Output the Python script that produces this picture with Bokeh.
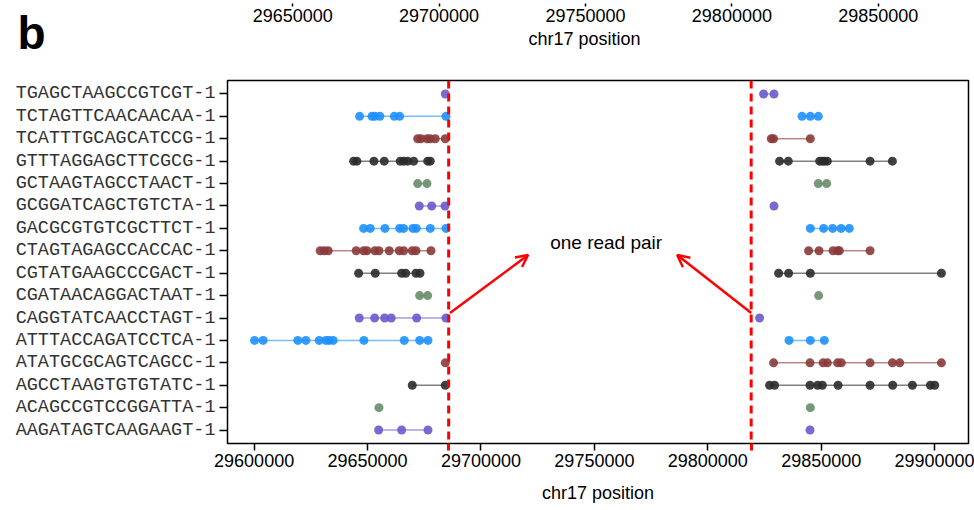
from bokeh.plotting import figure
from bokeh.layouts import column, row
from bokeh.models import (ColumnDataSource, Range1d, FixedTicker, Span, Arrow,
                          OpenHead, Label, BasicTickFormatter)
from bokeh.core.properties import value
from bokeh.embed import file_html
from bokeh.resources import INLINE

# ---------------- data ----------------
barcodes = [
    "TGAGCTAAGCCGTCGT-1", "TCTAGTTCAACAACAA-1", "TCATTTGCAGCATCCG-1",
    "GTTTAGGAGCTTCGCG-1", "GCTAAGTAGCCTAACT-1", "GCGGATCAGCTGTCTA-1",
    "GACGCGTGTCGCTTCT-1", "CTAGTAGAGCCACCAC-1", "CGTATGAAGCCCGACT-1",
    "CGATAACAGGACTAAT-1", "CAGGTATCAACCTAGT-1", "ATTTACCAGATCCTCA-1",
    "ATATGCGCAGTCAGCC-1", "AGCCTAAGTGTGTATC-1", "ACAGCCGTCCGGATTA-1",
    "AAGATAGTCAAGAAGT-1",
]

left_pos = [
    [29684270],
    [29646500, 29651930, 29653250, 29655460, 29661770, 29664150, 29684580],
    [29672090, 29673550, 29676200, 29677650, 29679860, 29684270],
    [29643860, 29645310, 29652810, 29657360, 29664420, 29665920, 29667680, 29670330, 29676500, 29677650],
    [29672090, 29676200],
    [29672800, 29678270, 29684140],
    [29648270, 29651180, 29657670, 29664150, 29665920, 29670020, 29671470, 29677650, 29684580],
    [29629120, 29630880, 29632650, 29645000, 29648270, 29649720, 29653250, 29655020, 29659560,
     29663970, 29665920, 29669710, 29671340, 29677960],
    [29646060, 29653390, 29665030, 29666800, 29671340, 29673110],
    [29672970, 29676500],
    [29646330, 29653120, 29657530, 29660440, 29671650, 29684580],
    [29600180, 29603970, 29619280, 29622810, 29628680, 29631630, 29633090, 29634850, 29648400,
     29666180, 29672970, 29676640],
    [29684270],
    [29669710, 29684270],
    [29655020],
    [29654890, 29665030, 29676640],
]

right_pos = [
    [29824570, 29829160],
    [29841510, 29845180, 29848700],
    [29827970, 29828980, 29845180],
    [29831630, 29835470, 29849280, 29850470, 29851480, 29852680, 29871510, 29881350],
    [29848700, 29852370],
    [29829160],
    [29845180, 29851040, 29855010, 29858720, 29862380],
    [29844420, 29849010, 29855190, 29857220, 29857970, 29871510],
    [29831190, 29835600, 29845180, 29902970],
    [29848840],
    [29822810],
    [29835780, 29845180, 29851350],
    [29828980, 29845040, 29850780, 29852680, 29857220, 29858850, 29871510, 29881350, 29884570, 29902970],
    [29827220, 29829420, 29845040, 29848400, 29850470, 29857400, 29871510, 29881490, 29890180,
     29898120, 29900020],
    [29845180],
    [29845040],
]

breakpoints = [29685750, 29819100]
palette = ["#6A5ACD", "#1E90FF", "#8B3A3A", "#2B2B2B", "#698B69"]
x_ticks = [29600000, 29650000, 29700000, 29750000, 29800000, 29850000, 29900000]
top_ticks = [29650000, 29700000, 29750000, 29800000, 29850000]
panel_letter = ["b"]

# annotation anchors
arrow_left = (29686340, 6.22, 29720760, 8.81)
arrow_right = (29819140, 6.22, 29786500, 8.81)
note_xy = (29755170, 9.35)

FONT = "Liberation Sans"
MONO = "Liberation Mono"
TOP_H = 51     # height of the cut-off upper axis strip
ROW_H = 62     # height of the whole upper row (letter strip)

# ---------------- sources ----------------
n = len(barcodes)
px, py, pc = [], [], []
sx0, sx1, sy, sc = [], [], [], []
for i, bc in enumerate(barcodes):
    yv = n - i
    col = palette[i % len(palette)]
    for grp in (left_pos[i], right_pos[i]):
        if len(grp) > 1:
            sx0.append(min(grp)); sx1.append(max(grp)); sy.append(yv); sc.append(col)
        for v in grp:
            px.append(v); py.append(yv); pc.append(col)

pts = ColumnDataSource(dict(x=px, y=py, c=pc))
segs = ColumnDataSource(dict(x0=sx0, x1=sx1, y=sy, c=sc))

# ---------------- panel letter ----------------
bfig = figure(frame_width=200, frame_height=ROW_H, x_range=Range1d(0, 200),
              y_range=Range1d(0, ROW_H), output_backend="svg", toolbar_location=None,
              x_axis_location=None, y_axis_location=None, min_border=0)
bfig.outline_line_color = None
bfig.grid.visible = False
bfig.text(x=[17], y=[ROW_H - 32], text=panel_letter, text_font=value(FONT),
          text_font_size="46px", text_font_style="bold", text_align="left",
          text_baseline="middle", text_color="black")

# ---------------- top (cut-off) axis ----------------
top = figure(width=774, height=TOP_H, x_range=Range1d(29618510, 29880806), y_range=Range1d(0, 1),
             output_backend="svg", toolbar_location=None, y_axis_location=None,
             min_border_top=0, min_border_bottom=0, min_border_left=0, min_border_right=6)
top.outline_line_color = None
top.grid.visible = False
ax = top.xaxis[0]
ax.ticker = FixedTicker(ticks=top_ticks)
ax.formatter = BasicTickFormatter(use_scientific=False)
ax.axis_line_color = None
ax.major_tick_out = 3
ax.major_tick_in = 0
ax.major_tick_line_color = "black"
ax.major_tick_line_width = 1.5
ax.minor_tick_line_color = None
ax.major_label_standoff = 2
ax.major_label_text_font = FONT
ax.major_label_text_font_size = "18px"
ax.major_label_text_color = "black"
ax.axis_label = "chr17 position"
ax.axis_label_standoff = 4
ax.axis_label_text_font = FONT
ax.axis_label_text_font_size = "18px"
ax.axis_label_text_font_style = "normal"
ax.axis_label_text_color = "black"

# ---------------- main panel ----------------
p = figure(width=974, height=510 - ROW_H, x_range=Range1d(29588265, 29914900),
           y_range=Range1d(0.4, 16.6), output_backend="svg", toolbar_location=None,
           min_border_top=80 - ROW_H, min_border_bottom=67, min_border_left=227, min_border_right=6)
p.grid.visible = False
p.outline_line_color = "black"
p.outline_line_width = 1.5

p.segment(x0="x0", y0="y", x1="x1", y1="y", line_color="c", line_alpha=0.6, line_width=1.5,
          source=segs)
p.scatter(x="x", y="y", fill_color="c", line_color=None, fill_alpha=0.9, size=9, source=pts)

for bp in breakpoints:
    p.add_layout(Span(location=bp, dimension="height", line_color="red", line_dash="8 5",
                      line_width=3))

for a in (arrow_left, arrow_right):
    p.add_layout(Arrow(end=OpenHead(size=12, line_color="red", line_width=2.5),
                       x_start=a[0], y_start=a[1], x_end=a[2], y_end=a[3],
                       line_color="red", line_width=2.5))

p.add_layout(Label(x=note_xy[0], y=note_xy[1], text="one read pair", text_font=FONT,
                   text_font_size="19px", text_align="center", text_baseline="middle",
                   text_color="black"))

xa = p.xaxis[0]
xa.ticker = FixedTicker(ticks=x_ticks, minor_ticks=breakpoints)
xa.formatter = BasicTickFormatter(use_scientific=False)
xa.axis_line_color = None
xa.major_tick_out = 7
xa.major_tick_in = 0
xa.major_tick_line_width = 1.5
xa.major_tick_line_color = "black"
xa.minor_tick_line_color = "red"
xa.minor_tick_line_width = 3
xa.minor_tick_out = 7
xa.minor_tick_in = 0
xa.major_label_standoff = 3
xa.major_label_text_font = FONT
xa.major_label_text_font_size = "18px"
xa.major_label_text_color = "black"
xa.axis_label = "chr17 position"
xa.axis_label_standoff = 13
xa.axis_label_text_font = FONT
xa.axis_label_text_font_size = "18px"
xa.axis_label_text_font_style = "normal"
xa.axis_label_text_color = "black"

ya = p.yaxis[0]
ya.ticker = FixedTicker(ticks=list(range(1, n + 1)))
ya.major_label_overrides = {n - i: bc for i, bc in enumerate(barcodes)}
ya.axis_line_color = None
ya.major_tick_out = 8
ya.major_tick_in = 0
ya.major_tick_line_width = 1.5
ya.major_tick_line_color = "black"
ya.minor_tick_line_color = None
ya.major_label_standoff = 4
ya.major_label_text_font = MONO
ya.major_label_text_font_size = "18.5px"
ya.major_label_text_color = "#333333"

layout = column(row(bfig, top, spacing=0), p, spacing=0)
open("out.html", "w").write(file_html(layout, INLINE))
